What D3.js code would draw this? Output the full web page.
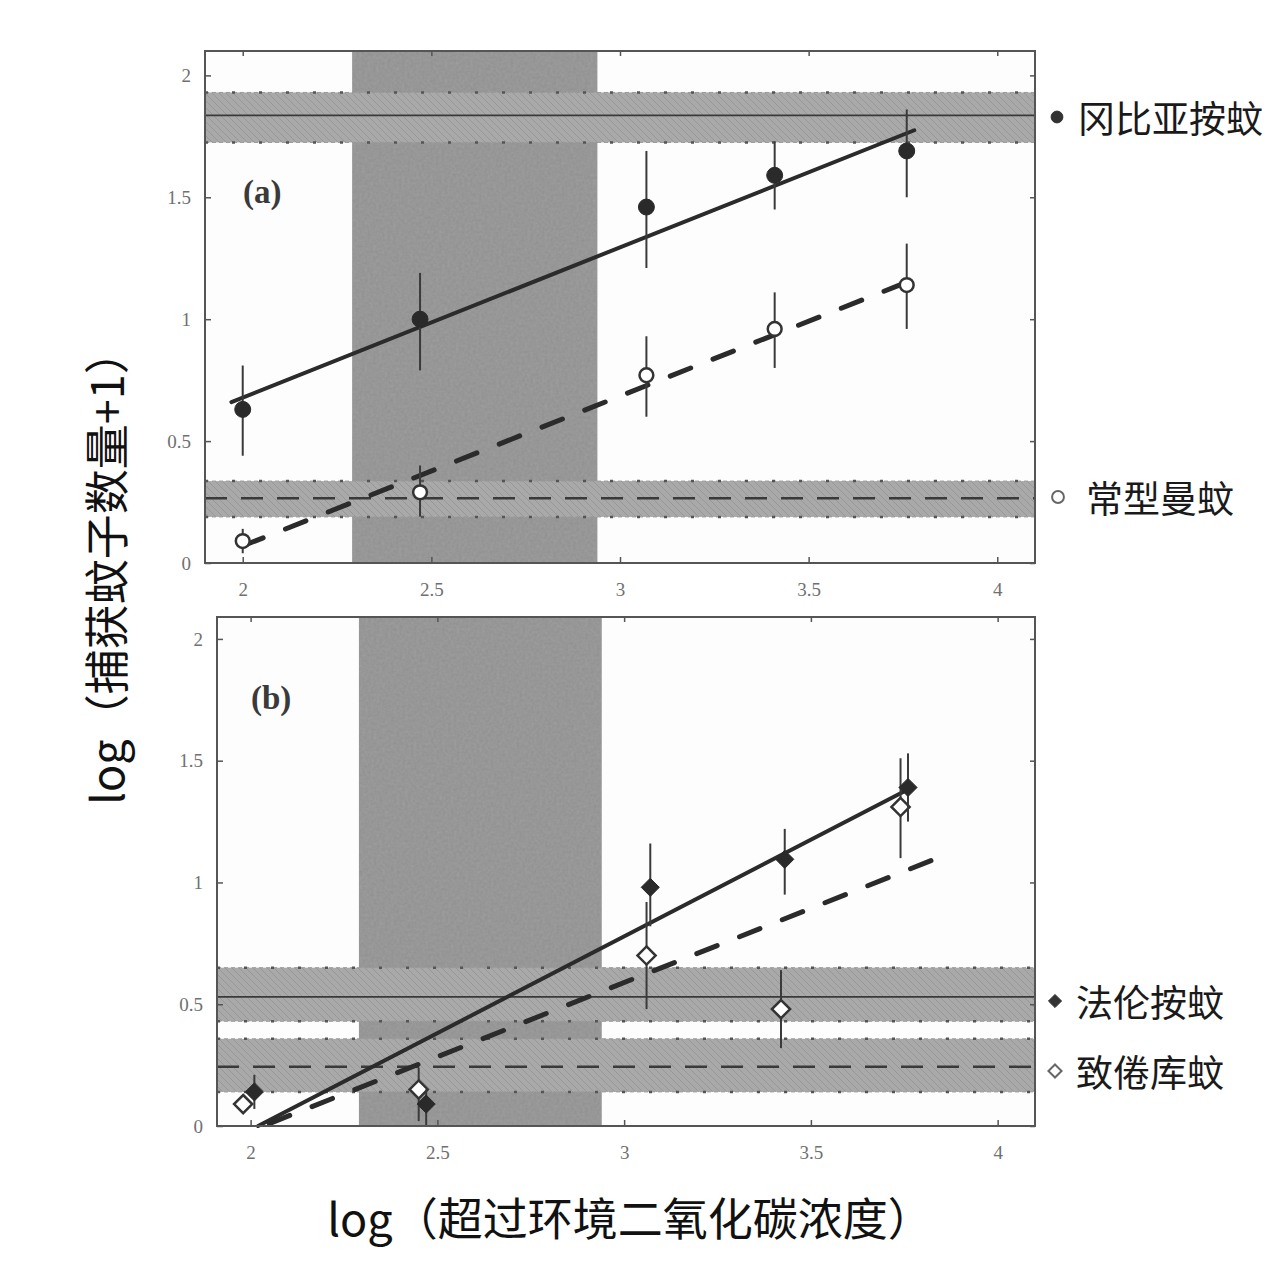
<!DOCTYPE html>
<html lang="zh">
<head>
<meta charset="UTF-8">
<title>log 捕获蚊子数量</title>
<script src="https://d3js.org/d3.v7.min.js"></script>
<style>
    body { margin: 0; background: #fff; }
    svg { display: block; }
    .tick text { font-family: "Liberation Serif", "DejaVu Serif", serif; font-size: 19px; fill: #707070; }
    .tick line { stroke: #555; stroke-width: 1.5; }
    .domain { stroke: none; }
</style>
</head>
<body>
<svg id="chart" width="1282" height="1264"></svg>
<script>
// x positions and values
const xTicks = [2, 2.5, 3, 3.5, 4];
const yTicks = [0, 0.5, 1, 1.5, 2];
const shadeX = [2.29, 2.94];

// panel (a)
const gambiaeX  = [2.0, 2.47, 3.07, 3.41, 3.76];
const gambiaeY  = [0.63, 1.0, 1.46, 1.59, 1.69];
const gambiaeLo = [0.44, 0.79, 1.21, 1.45, 1.50];
const gambiaeHi = [0.81, 1.19, 1.69, 1.73, 1.86];
const gambiaeFit = [[1.97, 0.66], [3.78, 1.775]];
const gambiaeBand = [1.725, 1.836, 1.93];

const mansoniaX  = [2.0, 2.47, 3.07, 3.41, 3.76];
const mansoniaY  = [0.09, 0.29, 0.77, 0.96, 1.14];
const mansoniaLo = [0.04, 0.19, 0.60, 0.80, 0.96];
const mansoniaHi = [0.14, 0.40, 0.93, 1.11, 1.31];
const mansoniaFit = [[2.0, 0.07], [3.79, 1.17]];
const mansoniaBand = [0.189, 0.266, 0.336];

// panel (b)
const farautiX  = [2.01, 2.47, 3.07, 3.43, 3.76];
const farautiY  = [0.14, 0.09, 0.98, 1.095, 1.39];
const farautiLo = [0.07, 0.0, 0.82, 0.95, 1.25];
const farautiHi = [0.21, 0.15, 1.16, 1.22, 1.53];
const farautiFit = [[2.02, 0.0], [3.77, 1.39]];
const farautiBand = [0.43, 0.53, 0.65];

const culexX  = [1.98, 2.45, 3.06, 3.42, 3.74];
const culexY  = [0.09, 0.15, 0.70, 0.48, 1.31];
const culexLo = [0.06, 0.02, 0.48, 0.32, 1.10];
const culexHi = [0.12, 0.24, 0.92, 0.64, 1.51];
const culexFit = [[2.05, 0.01], [3.85, 1.107]];
const culexBand = [0.14, 0.243, 0.358];

const svg = d3.select("#chart");
const defs = svg.append("defs");

// diagonal hatching for the horizontal bands
const hatch = defs.append("pattern")
    .attr("id", "hatch")
    .attr("patternUnits", "userSpaceOnUse")
    .attr("width", 7).attr("height", 7);
hatch.append("rect").attr("width", 7).attr("height", 7).attr("fill", "#a9a9a9");
hatch.append("path")
    .attr("d", "M0,0 L7,7 M-1,6 L1,8 M6,-1 L8,1")
    .attr("stroke", "#979797").attr("stroke-width", 1);

// grain for the vertical shaded region
const grain = defs.append("filter").attr("id", "grain");
grain.append("feTurbulence")
    .attr("type", "fractalNoise").attr("baseFrequency", 0.35)
    .attr("numOctaves", 2).attr("seed", 4);
grain.append("feColorMatrix")
    .attr("type", "matrix")
    .attr("values", "0 0 0 0 0.5  0 0 0 0 0.5  0 0 0 0 0.5  0 0 0 0.35 0");
grain.append("feComposite").attr("in2", "SourceGraphic").attr("operator", "in");

function drawPanel(opt) {
    const g = svg.append("g").attr("transform", `translate(${opt.left},${opt.top})`);
    const x = d3.scaleLinear().domain(opt.xDomain).range([0, opt.width]);
    const y = d3.scaleLinear().domain([0, opt.yMax]).range([opt.height, 0]);

    g.append("rect").attr("width", opt.width).attr("height", opt.height).attr("fill", "#fdfdfd");

    // vertical shaded band
    g.append("rect")
        .attr("x", x(shadeX[0])).attr("width", x(shadeX[1]) - x(shadeX[0]))
        .attr("y", 0).attr("height", opt.height)
        .attr("fill", "#8f8f8f");
    g.append("rect")
        .attr("x", x(shadeX[0])).attr("width", x(shadeX[1]) - x(shadeX[0]))
        .attr("y", 0).attr("height", opt.height)
        .attr("fill", "#fff")
        .attr("filter", "url(#grain)");

    // horizontal bands (mean +/- interval)
    opt.bands.forEach(b => {
        const [lo, mid, hi] = b.values;
        g.append("rect")
            .attr("x", 0).attr("width", opt.width)
            .attr("y", y(hi)).attr("height", y(lo) - y(hi))
            .attr("fill", "url(#hatch)");
        [lo, hi].forEach(v => {
            g.append("line")
                .attr("x1", 0).attr("x2", opt.width).attr("y1", y(v)).attr("y2", y(v))
                .attr("stroke", "#999").attr("stroke-width", 1).attr("stroke-dasharray", "4,3");
            g.append("line")
                .attr("x1", 0).attr("x2", opt.width).attr("y1", y(v)).attr("y2", y(v))
                .attr("stroke", "#555").attr("stroke-width", 2.5).attr("stroke-dasharray", "3,24");
        });
        g.append("line")
            .attr("x1", 0).attr("x2", opt.width).attr("y1", y(mid)).attr("y2", y(mid))
            .attr("stroke", "#3a3a3a").attr("stroke-width", b.dashed ? 2.5 : 1.6)
            .attr("stroke-dasharray", b.dashed ? "22,14" : null);
    });

    // regression lines
    const line = d3.line().x(d => x(d[0])).y(d => y(d[1]));
    opt.fits.forEach(f => {
        g.append("path")
            .attr("d", line(f.pts))
            .attr("fill", "none")
            .attr("stroke", "#2b2b2b")
            .attr("stroke-width", f.dashed ? 5 : 4)
            .attr("stroke-linecap", "round")
            .attr("stroke-dasharray", f.dashed ? "22,24" : null);
    });

    // error bars and markers
    opt.series.forEach(s => {
        s.xs.forEach((xv, i) => {
            g.append("line")
                .attr("x1", x(xv)).attr("x2", x(xv))
                .attr("y1", y(s.lo[i])).attr("y2", y(s.hi[i]))
                .attr("stroke", "#3a3a3a").attr("stroke-width", 2);
        });
        const sym = d3.symbol()
            .type(s.shape === "diamond" ? d3.symbolDiamond2 : d3.symbolCircle)
            .size(s.shape === "diamond" ? 210 : (s.filled ? 200 : 150));
        g.selectAll(null)
            .data(s.xs.map((xv, i) => [xv, s.ys[i]]))
            .join("path")
            .attr("d", sym)
            .attr("transform", d => `translate(${x(d[0])},${y(d[1])})`)
            .attr("fill", s.filled ? "#2a2a2a" : "#fff")
            .attr("stroke", s.filled ? "#2a2a2a" : "#333")
            .attr("stroke-width", s.filled ? 1 : 2.5);
    });

    // frame
    g.append("rect").attr("width", opt.width).attr("height", opt.height)
        .attr("fill", "none").attr("stroke", "#555").attr("stroke-width", 2);

    // axes with inward ticks
    g.append("g").attr("transform", `translate(0,${opt.height})`)
        .call(d3.axisBottom(x).tickValues(xTicks).tickSize(-6).tickPadding(20).tickFormat(d3.format("")));
    g.append("g")
        .call(d3.axisLeft(y).tickValues(yTicks).tickSize(-6).tickPadding(14).tickFormat(d3.format("")));
    g.append("g")
        .call(d3.axisTop(x).tickValues(xTicks).tickSize(-5).tickFormat(""));
    g.append("g").attr("transform", `translate(${opt.width},0)`)
        .call(d3.axisRight(y).tickValues(yTicks).tickSize(-5).tickFormat(""));

    g.append("text")
        .attr("x", opt.labelPos[0]).attr("y", opt.labelPos[1])
        .attr("font-family", "Liberation Serif, serif")
        .attr("font-weight", "bold").attr("font-size", 33).attr("fill", "#3a3a3a")
        .text(opt.label);

    return { x, y };
}

drawPanel({
    left: 205, top: 51, width: 830, height: 512,
    xDomain: [1.9, 4.1], yMax: 2.1,
    label: "(a)", labelPos: [38, 152],
    bands: [
        { values: gambiaeBand, dashed: false },
        { values: mansoniaBand, dashed: true }
    ],
    fits: [
        { pts: gambiaeFit, dashed: false },
        { pts: mansoniaFit, dashed: true }
    ],
    series: [
        { xs: gambiaeX, ys: gambiaeY, lo: gambiaeLo, hi: gambiaeHi, shape: "circle", filled: true },
        { xs: mansoniaX, ys: mansoniaY, lo: mansoniaLo, hi: mansoniaHi, shape: "circle", filled: false }
    ]
});

drawPanel({
    left: 217, top: 617, width: 818, height: 509,
    xDomain: [1.91, 4.1], yMax: 2.09,
    label: "(b)", labelPos: [34, 92],
    bands: [
        { values: farautiBand, dashed: false },
        { values: culexBand, dashed: true }
    ],
    fits: [
        { pts: farautiFit, dashed: false },
        { pts: culexFit, dashed: true }
    ],
    series: [
        { xs: culexX, ys: culexY, lo: culexLo, hi: culexHi, shape: "diamond", filled: false },
        { xs: farautiX, ys: farautiY, lo: farautiLo, hi: farautiHi, shape: "diamond", filled: true }
    ]
});

// legend on the right
const legendItems = [
    { label: "冈比亚按蚊", x: 1057, y: 117, shape: "circle", filled: true },
    { label: "常型曼蚊", x: 1058, y: 497, shape: "circle", filled: false },
    { label: "法伦按蚊", x: 1055, y: 1001, shape: "diamond", filled: true },
    { label: "致倦库蚊", x: 1055, y: 1071, shape: "diamond", filled: false }
];
legendItems.forEach(d => {
    const sym = d3.symbol()
        .type(d.shape === "diamond" ? d3.symbolDiamond2 : d3.symbolCircle)
        .size(110);
    svg.append("path")
        .attr("d", sym)
        .attr("transform", `translate(${d.x},${d.y})`)
        .attr("fill", d.filled ? "#333" : "#fff")
        .attr("stroke", d.filled ? "#333" : "#666")
        .attr("stroke-width", d.filled ? 1 : 2);
    svg.append("text")
        .attr("x", d.x + (d.shape === "circle" && !d.filled ? 28 : 21)).attr("y", d.y)
        .attr("dominant-baseline", "central")
        .attr("font-family", "Noto Sans CJK SC, sans-serif")
        .attr("font-size", 37).attr("fill", "#1a1a1a")
        .text(d.label);
});

// axis titles
svg.append("text")
    .attr("x", 630).attr("y", 1216)
    .attr("text-anchor", "middle").attr("dominant-baseline", "central")
    .attr("font-family", "Noto Sans CJK SC, sans-serif")
    .attr("font-size", 45).attr("fill", "#111")
    .text("log（超过环境二氧化碳浓度）");

svg.append("text")
    .attr("transform", "translate(104,567) rotate(-90)")
    .attr("text-anchor", "middle").attr("dominant-baseline", "central")
    .attr("font-family", "Noto Sans CJK SC, sans-serif")
    .attr("font-size", 45).attr("fill", "#111")
    .text("log（捕获蚊子数量+1）");
</script>
</body>
</html>
